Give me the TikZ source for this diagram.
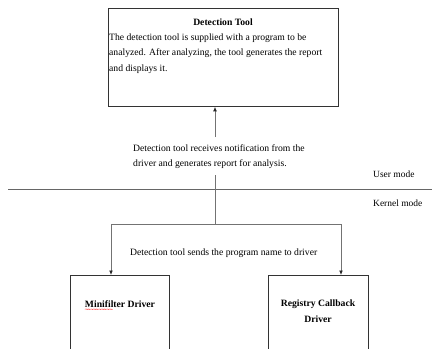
\documentclass[tikz,border=0pt]{standalone}
\usepackage{fontspec}
\setmainfont{Liberation Serif}
\usetikzlibrary{arrows.meta,calc,decorations.pathmorphing}
\begin{document}
\begin{tikzpicture}[x=1bp,y=-1bp,
  txt/.style={font=\fontsize{9.7}{15.2}\selectfont, inner sep=0pt, align=left},
  boldtxt/.style={txt, font=\fontsize{9.7}{15.5}\selectfont\bfseries},
  boxframe/.style={draw=black!80, line width=0.8pt, inner sep=0pt},
  wire/.style={draw=black!55, line width=0.8pt},
  arr/.style={wire, -{Latex[length=4.5pt,width=3.8pt,color=black!85]}},
  modetxt/.style={font=\fontsize{9.5}{10}\selectfont, inner sep=0pt, anchor=west}]
\useasboundingbox (0,0) rectangle (432,349);
\clip (0,0) rectangle (432,349);
\fill[white] (0,0) rectangle (432,349);

% user-mode detection tool
\node[boxframe, anchor=north west, minimum width=230bp, minimum height=98bp] (tool) at (108,8) {};
\node[boldtxt, anchor=base] (tooltitle) at (223,25) {Detection Tool};
\node[txt, anchor=base west] (tooldesc) at (109,71) {The detection tool is supplied with a program to be\\
analyzed. After analyzing, the tool generates the report\\
and displays it.};

% notification text between the tool and the mode boundary
\node[txt, anchor=north west, inner ysep=7bp] (recv) at (133,137) {Detection tool receives notification from the\\
driver and generates report for analysis.};

% user / kernel boundary
\coordinate (sepL) at (8,189);
\coordinate (sepR) at (432,189);
\draw[draw=black!60, line width=0.9pt] (sepL) -- (sepR);
\node[modetxt] (user) at (373,174) {User mode};
\node[modetxt] (kernel) at (373,203) {Kernel mode};

% kernel-mode drivers
\node[boxframe, anchor=north west, minimum width=99bp, minimum height=100bp] (mini) at (70,275) {};
\node[boxframe, anchor=north west, minimum width=100bp, minimum height=100bp] (reg) at (268,275) {};
\node[boldtxt, anchor=base] (minitext) at (120,307) {Minifilter Driver};
\node[boldtxt, align=center, anchor=base] (regtext) at (318,322) {Registry Callback\\Driver};
\draw[red!75, line width=0.3pt, decorate, decoration={snake, amplitude=0.4bp, segment length=1.6bp}]
  ($(minitext.base west)+(0,2.2)$) -- ($(minitext.base west)+(28,2.2)$);

\node[txt, anchor=base west] (send) at (130,255) {Detection tool sends the program name to driver};

% connectors
\coordinate (junc) at (215,224);
\draw[arr] (recv.north -| junc) -- (tool.south -| junc);
\draw[wire] (recv.south -| junc) -- (junc);
\draw[arr] (junc) -| ($(mini.north west)+(41,0)$);
\draw[arr] (junc) -| ($(reg.north west)+(73,0)$);
\end{tikzpicture}
\end{document}
